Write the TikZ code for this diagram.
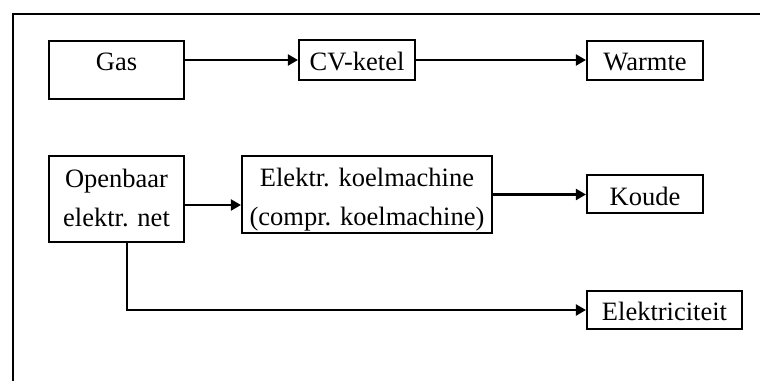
\documentclass[tikz,border=0pt]{standalone}
\usepackage{fontspec}
\setmainfont{Liberation Serif}
\usetikzlibrary{arrows.meta}
\begin{document}
\begin{tikzpicture}[x=1pt,y=-1pt,
  box/.style={draw, line width=2.1pt, inner sep=0pt, align=center,
    font=\fontsize{26.5}{39}\selectfont},
  arr/.style={line width=2.1pt, -{Triangle[length=10pt,width=11pt]}}]
  \useasboundingbox (0,0) rectangle (760,381);
  % frame (open towards right and bottom)
  \draw[line width=2.8pt] (760,14) -- (13,14) -- (13,381);

  % top row
  \node[box, minimum width=135pt, text height=29pt, text depth=29pt] (gas) at (116.5,70) {Gas};
  \node[box, minimum width=116pt, text height=30.5pt, text depth=9.5pt] (cv) at (357,60) {CV-ketel};
  \node[box, minimum width=116pt, text height=29pt, text depth=10pt] (warmte) at (645,60.5) {Warmte};

  % middle row (text height measured to the last baseline)
  \node[box, minimum width=135pt, text height=70pt, text depth=16pt] (net) at (116.5,199) {Openbaar\\elektr. net};
  \node[box, minimum width=250pt, text height=69.5pt, text depth=7.5pt] (koel) at (367,194.5) {Elektr. koelmachine\\(compr. koelmachine)};
  \node[box, minimum width=116pt, text height=30pt, text depth=8pt] (koude) at (645,194) {Koude};

  % bottom row
  \node[box, minimum width=155pt, text height=29pt, text depth=9pt] (elek) at (664.5,310) {Elektriciteit};

  % connectors
  \draw[arr] (gas.east |- cv.west) -- (cv.west);
  \draw[arr] (cv.east) -- (cv.east -| warmte.west);
  \draw[arr] ([yshift=-6pt]net.east) -- ([yshift=-6pt]net.east -| koel.west);
  \draw[arr] (koel.east) -- (koel.east -| koude.west);
  \draw[arr] ([xshift=10.5pt]net.south) |- (elek.west);
\end{tikzpicture}
\end{document}
